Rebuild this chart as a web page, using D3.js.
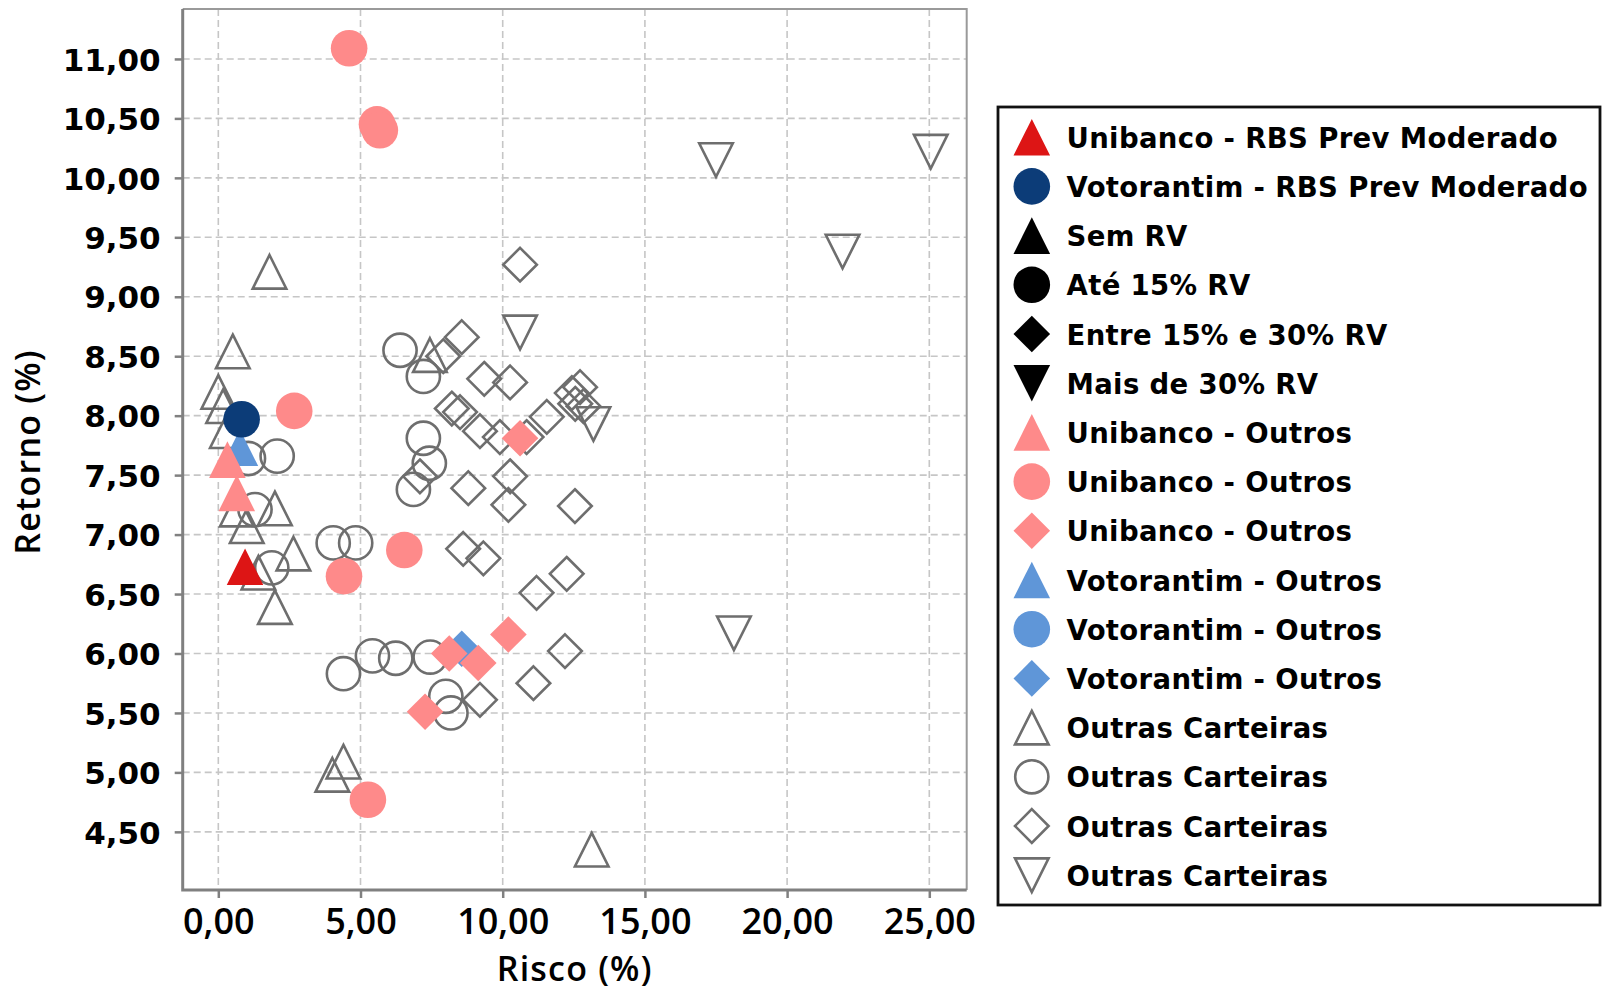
<!DOCTYPE html>
<html>
<head>
<meta charset="utf-8">
<script src="https://cdn.jsdelivr.net/npm/d3@7"></script>
<style>
  html, body { margin: 0; padding: 0; background: #fff; }
  svg { display: block; }
</style>
</head>
<body>
<div id="chart"></div>
<script>
// tick values
const xTicks = [0, 5, 10, 15, 20, 25];
const yTicks = [4.5, 5, 5.5, 6, 6.5, 7, 7.5, 8, 8.5, 9, 9.5, 10, 10.5, 11];

// series values as [risco, retorno]
const unibancoRbs = [[0.94, 6.73]];
const votorantimRbs = [[0.82, 7.97]];
const semRv = [];
const ate15Rv = [];
const entre15e30Rv = [];
const maisDe30Rv = [];
const unibancoOutrosTri = [[0.32, 7.63], [0.65, 7.35]];
const unibancoOutrosCirc = [[4.60, 11.09], [5.58, 10.45], [5.68, 10.40], [2.67, 8.04],
  [6.54, 6.87], [4.42, 6.65], [5.26, 4.77]];
const unibancoOutrosDiam = [[10.61, 7.81], [8.12, 6.00], [9.14, 5.92], [10.20, 6.16], [7.27, 5.51]];
const votorantimOutrosTri = [[0.76, 7.73]];
const votorantimOutrosCirc = [];
const votorantimOutrosDiam = [[8.56, 6.04]];
const outrasTri = [[1.80, 9.21], [0.51, 8.54], [0.00, 8.20], [0.17, 8.08], [0.30, 7.87],
  [7.44, 8.51], [0.65, 7.21], [1.99, 7.22], [1.00, 7.07], [2.64, 6.84], [1.41, 6.68],
  [1.99, 6.39], [4.01, 4.98], [4.40, 5.09], [13.13, 4.35]];
const outrasCirc = [[6.39, 8.55], [7.21, 8.33], [7.21, 7.81], [7.42, 7.60], [6.86, 7.38],
  [2.07, 7.66], [1.06, 7.64], [1.29, 7.21], [1.88, 6.72], [4.04, 6.93], [4.83, 6.93],
  [4.40, 5.83], [5.42, 5.98], [6.24, 5.96], [7.45, 5.97], [8.00, 5.64], [8.18, 5.50]];
const outrasDiam = [[10.61, 9.27], [8.56, 8.66], [7.91, 8.50], [9.35, 8.31], [10.26, 8.28],
  [8.21, 8.06], [8.50, 8.03], [9.20, 7.87], [9.90, 7.82], [10.84, 7.82], [11.55, 7.99],
  [12.43, 8.19], [12.72, 8.24], [12.84, 8.08], [12.55, 8.10], [7.09, 7.49], [10.26, 7.49],
  [8.79, 7.39], [10.20, 7.25], [12.54, 7.24], [8.61, 6.88], [9.32, 6.80], [12.25, 6.67],
  [11.19, 6.51], [12.19, 6.02], [11.08, 5.75], [9.20, 5.61]];
const outrasDown = [[17.50, 10.15], [25.05, 10.22], [21.95, 9.38], [10.61, 8.70],
  [13.19, 7.93], [18.13, 6.17]];

const pink = "#fe8a8a", blue = "#5f96d8", gray = "#6e6e6e";

const series = [
  {name: "Unibanco - RBS Prev Moderado", shape: "tri", fill: "#dd1515", data: unibancoRbs},
  {name: "Votorantim - RBS Prev Moderado", shape: "circ", fill: "#0c3c78", data: votorantimRbs},
  {name: "Sem RV", shape: "tri", fill: "#000", data: semRv},
  {name: "Até 15% RV", shape: "circ", fill: "#000", data: ate15Rv},
  {name: "Entre 15% e 30% RV", shape: "diam", fill: "#000", data: entre15e30Rv},
  {name: "Mais de 30% RV", shape: "down", fill: "#000", data: maisDe30Rv},
  {name: "Unibanco - Outros", shape: "tri", fill: pink, data: unibancoOutrosTri},
  {name: "Unibanco - Outros", shape: "circ", fill: pink, data: unibancoOutrosCirc},
  {name: "Unibanco - Outros", shape: "diam", fill: pink, data: unibancoOutrosDiam},
  {name: "Votorantim - Outros", shape: "tri", fill: blue, data: votorantimOutrosTri},
  {name: "Votorantim - Outros", shape: "circ", fill: blue, data: votorantimOutrosCirc},
  {name: "Votorantim - Outros", shape: "diam", fill: blue, data: votorantimOutrosDiam},
  {name: "Outras Carteiras", shape: "tri", stroke: gray, data: outrasTri},
  {name: "Outras Carteiras", shape: "circ", stroke: gray, data: outrasCirc},
  {name: "Outras Carteiras", shape: "diam", stroke: gray, data: outrasDiam},
  {name: "Outras Carteiras", shape: "down", stroke: gray, data: outrasDown}
];

function shapePath(kind, h) {
  if (kind === "tri") return `M0,${-h}L${h},${h}L${-h},${h}Z`;
  if (kind === "down") return `M${-h},${-h}L${h},${-h}L0,${h}Z`;
  if (kind === "diam") return `M0,${-h}L${h},0L0,${h}L${-h},0Z`;
  return `M${h},0A${h},${h} 0 1,1 ${-h},0A${h},${h} 0 1,1 ${h},0Z`;
}

function drawMark(sel, s) {
  const outline = !s.fill;
  const h = outline ? (s.shape === "circ" ? 16.6 : 16.8) : 18.3;
  sel.append("path")
    .attr("d", shapePath(s.shape, h))
    .attr("fill", outline ? "none" : s.fill)
    .attr("stroke", outline ? s.stroke : "none")
    .attr("stroke-width", outline ? 2.6 : 0);
}

const W = 1605, H = 992;
const plot = {left: 182.7, right: 966.7, top: 9, bottom: 890};

const svg = d3.select("#chart").append("svg")
  .attr("width", W).attr("height", H);

const x = d3.scaleLinear().domain([-1.252, 26.315]).range([plot.left, plot.right]);
const y = d3.scaleLinear().domain([4.011, 11.42]).range([plot.bottom, plot.top]);

const fmt = d => d3.format(".2f")(d).replace(".", ",");

// grid
const grid = svg.append("g")
  .attr("stroke", "#c6c6c6").attr("stroke-width", 1.6).attr("stroke-dasharray", "7,4");
grid.selectAll(".gx").data(xTicks).enter().append("line")
  .attr("x1", d => x(d)).attr("x2", d => x(d))
  .attr("y1", plot.top).attr("y2", plot.bottom);
grid.selectAll(".gy").data(yTicks).enter().append("line")
  .attr("x1", plot.left).attr("x2", plot.right)
  .attr("y1", d => y(d)).attr("y2", d => y(d));

// frame: top and right lighter
svg.append("path")
  .attr("d", `M${plot.left},${plot.top}H${plot.right}V${plot.bottom}`)
  .attr("fill", "none").attr("stroke", "#9a9a9a").attr("stroke-width", 2);

// points, last series drawn first
const marks = svg.append("g");
series.slice().reverse().forEach(s => {
  marks.append("g").selectAll("g")
    .data(s.data)
    .enter().append("g")
      .attr("transform", d => `translate(${x(d[0])},${y(d[1])})`)
      .each(function() { drawMark(d3.select(this), s); });
});

// axes
const xAxis = svg.append("g")
  .attr("transform", `translate(0,${plot.bottom})`)
  .call(d3.axisBottom(x).tickValues(xTicks).tickFormat(fmt).tickSize(8).tickPadding(10));
const yAxis = svg.append("g")
  .attr("transform", `translate(${plot.left},0)`)
  .call(d3.axisLeft(y).tickValues(yTicks).tickFormat(fmt).tickSize(8).tickPadding(14));

[xAxis, yAxis].forEach(a => {
  a.select(".domain").remove();
  a.selectAll(".tick line").attr("stroke", "#808080").attr("stroke-width", 2.5);
});
xAxis.selectAll(".tick text")
  .attr("fill", "#000")
  .style("font-family", "'Open Sans', sans-serif")
  .style("font-weight", 600)
  .style("font-size", "36px")
  .attr("dy", "0.72em");
yAxis.selectAll(".tick text")
  .attr("fill", "#000")
  .style("font-family", "'DejaVu Sans', sans-serif")
  .style("font-weight", "bold")
  .style("font-size", "31px")
  .attr("dy", "0.36em");

// left and bottom axis lines
svg.append("path")
  .attr("d", `M${plot.left},${plot.top}V${plot.bottom}H${plot.right}`)
  .attr("fill", "none").attr("stroke", "#808080").attr("stroke-width", 3);

// axis titles
svg.append("text")
  .attr("x", (plot.left + plot.right) / 2).attr("y", 981)
  .attr("text-anchor", "middle")
  .style("font-family", "'Open Sans', sans-serif")
  .style("font-weight", 600).style("font-size", "34px")
  .style("letter-spacing", "1.2px")
  .text("Risco (%)");
svg.append("text")
  .attr("transform", "translate(40,452) rotate(-90)")
  .attr("text-anchor", "middle")
  .style("font-family", "'Open Sans', sans-serif")
  .style("font-weight", 600).style("font-size", "34px")
  .style("letter-spacing", "1.2px")
  .text("Retorno (%)");

// legend
const leg = {left: 998, top: 107, right: 1600, bottom: 905, row0: 137.2, step: 49.2, sym: 1031.8, text: 1066.5};
svg.append("rect")
  .attr("x", leg.left).attr("y", leg.top)
  .attr("width", leg.right - leg.left).attr("height", leg.bottom - leg.top)
  .attr("fill", "#fff").attr("stroke", "#111").attr("stroke-width", 2.8);

const items = svg.append("g").selectAll("g")
  .data(series)
  .enter().append("g")
    .attr("transform", (d, i) => `translate(0,${leg.row0 + i * leg.step})`);
items.each(function(s) {
  const g = d3.select(this).append("g").attr("transform", `translate(${leg.sym},0)`);
  drawMark(g, s);
});
items.append("text")
  .attr("x", leg.text).attr("y", 10.5)
  .style("font-family", "'DejaVu Sans', sans-serif")
  .style("font-weight", "bold").style("font-size", "27.5px")
  .style("letter-spacing", "0.35px")
  .attr("fill", "#000")
  .text(d => d.name);
</script>
</body>
</html>
